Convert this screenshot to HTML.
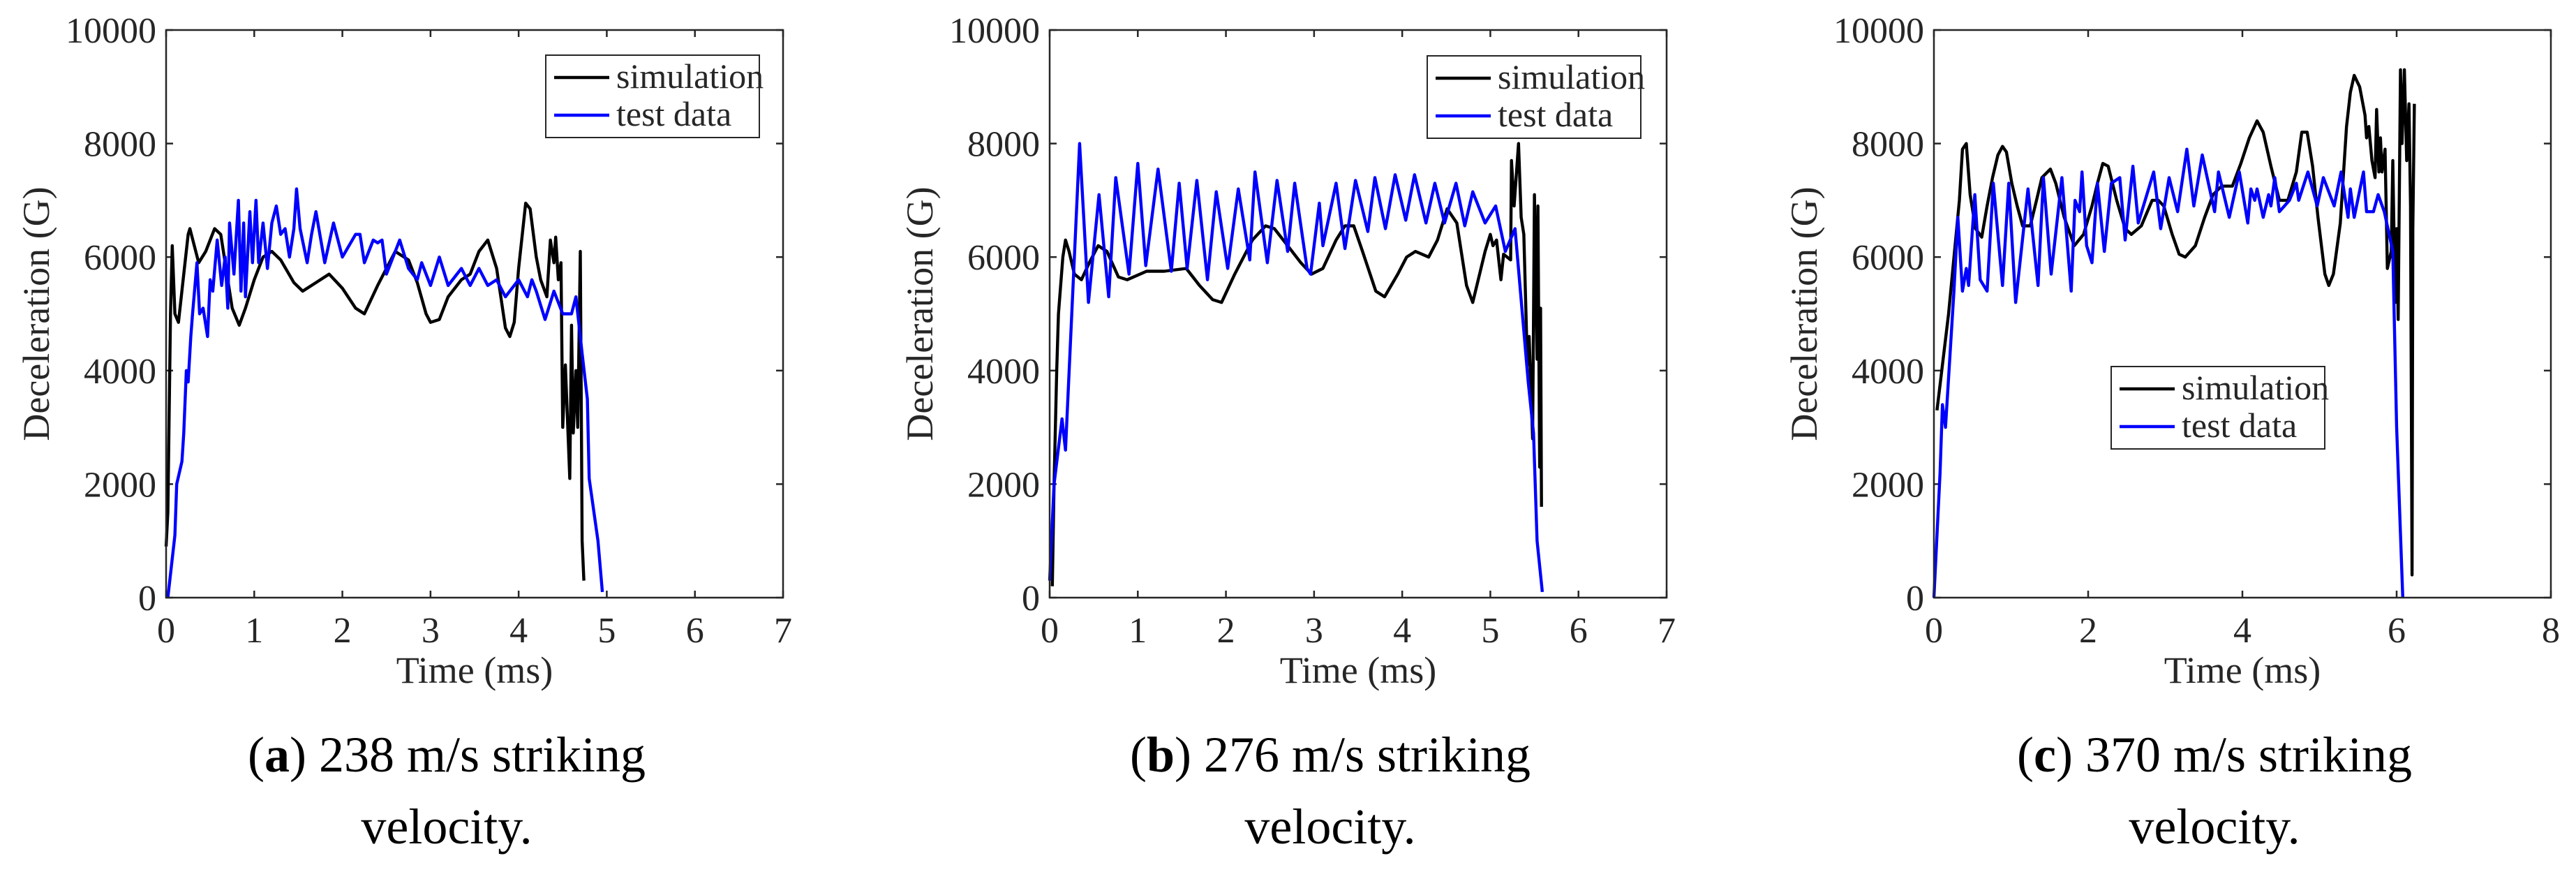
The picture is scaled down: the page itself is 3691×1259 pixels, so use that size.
<!DOCTYPE html>
<html><head><meta charset="utf-8"><style>
html,body{margin:0;padding:0;background:#fff}
svg{display:block}
text{font-family:"Liberation Serif",serif;fill:#262626}
</style></head><body>
<svg id="fig" width="3691" height="1259" viewBox="0 0 3691 1259" xmlns="http://www.w3.org/2000/svg"></svg>
<script>
// Panel (a) 238 m/s
const aSimT=[0,0.02,0.05,0.07,0.1,0.14,0.2,0.25,0.27,0.32,0.37,0.45,0.55,0.62,0.7,0.75,0.83,0.9,1.0,1.1,1.2,1.3,1.45,1.55,1.7,1.85,2.0,2.15,2.25,2.4,2.6,2.75,2.85,2.95,3.0,3.1,3.2,3.35,3.45,3.55,3.65,3.75,3.85,3.9,3.95,4.0,4.08,4.13,4.2,4.25,4.32,4.36,4.4,4.42,4.45,4.48,4.5,4.53,4.55,4.58,4.6,4.62,4.65,4.67,4.7,4.72,4.74];
const aSimV=[900,1500,5000,6200,5000,4850,5700,6400,6500,6200,5900,6100,6500,6400,5600,5100,4800,5100,5600,6000,6100,5950,5550,5400,5550,5700,5450,5100,5000,5500,6100,5950,5550,5000,4850,4900,5300,5600,5700,6100,6300,5800,4750,4600,4850,5800,6950,6850,6000,5600,5300,6300,5900,6350,5600,5900,3000,4100,3300,2100,4800,2900,4000,3000,6100,1000,300];
const aTestT=[0.02,0.1,0.12,0.18,0.2,0.23,0.25,0.28,0.3,0.35,0.38,0.42,0.47,0.5,0.53,0.58,0.63,0.67,0.7,0.72,0.77,0.82,0.85,0.88,0.9,0.95,0.98,1.02,1.05,1.1,1.15,1.2,1.25,1.3,1.35,1.4,1.45,1.48,1.52,1.6,1.65,1.7,1.8,1.9,2.0,2.15,2.2,2.25,2.35,2.4,2.45,2.5,2.65,2.75,2.85,2.9,3.0,3.1,3.2,3.35,3.45,3.55,3.65,3.75,3.85,4.0,4.1,4.15,4.2,4.3,4.4,4.5,4.6,4.65,4.72,4.78,4.8,4.9,4.95];
const aTestV=[0,1100,2000,2400,2900,4000,3800,4600,5000,5900,5000,5100,4600,5600,5400,6300,5500,6000,5100,6600,5700,7000,5400,6600,5300,6800,5900,7000,5900,6600,5800,6600,6900,6400,6500,6000,6500,7200,6500,5900,6400,6800,5900,6600,6000,6400,6400,5900,6300,6250,6300,5700,6300,5800,5600,5900,5500,6000,5500,5800,5500,5800,5500,5600,5300,5600,5300,5600,5400,4900,5400,5000,5000,5300,4300,3500,2100,1000,100];
// Panel (b) 276 m/s
const bSimT=[0.03,0.05,0.08,0.1,0.15,0.18,0.22,0.28,0.36,0.45,0.55,0.65,0.78,0.88,1.1,1.3,1.55,1.7,1.85,1.95,2.1,2.3,2.45,2.55,2.7,2.85,2.97,3.1,3.25,3.35,3.45,3.55,3.7,3.8,3.95,4.05,4.15,4.3,4.4,4.51,4.62,4.73,4.8,4.94,5.0,5.03,5.07,5.12,5.15,5.23,5.24,5.27,5.32,5.35,5.38,5.42,5.44,5.48,5.5,5.53,5.54,5.56,5.57,5.58];
const bSimV=[200,2000,4000,5000,6000,6300,6100,5700,5600,5900,6200,6100,5650,5600,5750,5750,5800,5500,5250,5200,5700,6300,6550,6500,6200,5900,5700,5800,6300,6550,6550,6100,5400,5300,5700,6000,6100,6000,6300,6850,6600,5500,5200,6100,6400,6200,6300,5600,6050,5950,7700,6900,8000,6700,6400,4100,4600,2800,7100,4200,6900,2300,5100,1600];
const bTestT=[0,0.05,0.14,0.18,0.34,0.44,0.56,0.67,0.75,0.9,1.0,1.09,1.23,1.38,1.47,1.56,1.67,1.79,1.89,2.02,2.14,2.27,2.33,2.47,2.58,2.7,2.78,2.92,2.96,3.06,3.1,3.25,3.35,3.47,3.61,3.69,3.81,3.92,4.04,4.14,4.27,4.37,4.48,4.61,4.71,4.8,4.94,5.06,5.17,5.28,5.43,5.49,5.53,5.59];
const bTestV=[300,2000,3150,2600,8000,5200,7100,5300,7400,5700,7650,5850,7550,5750,7300,5800,7350,5600,7150,5800,7200,5950,7500,5900,7350,6100,7300,5800,5700,6950,6200,7300,6150,7350,6450,7400,6500,7450,6650,7450,6600,7300,6600,7300,6550,7150,6600,6900,6100,6500,3800,2900,1000,100];
// Panel (c) 370 m/s
const cSimT=[0.04,0.19,0.33,0.37,0.42,0.47,0.54,0.62,0.69,0.76,0.83,0.89,0.94,1.01,1.08,1.15,1.25,1.33,1.4,1.51,1.58,1.69,1.82,1.94,2.05,2.12,2.19,2.26,2.37,2.48,2.56,2.69,2.83,2.91,2.98,3.09,3.18,3.26,3.39,3.51,3.62,3.73,3.87,3.98,4.09,4.19,4.27,4.37,4.48,4.59,4.7,4.77,4.84,4.91,4.98,5.07,5.12,5.18,5.27,5.35,5.4,5.45,5.52,5.59,5.61,5.64,5.68,5.72,5.74,5.77,5.79,5.81,5.85,5.88,5.93,5.95,5.98,6.0,6.02,6.05,6.07,6.1,6.13,6.16,6.18,6.2,6.21,6.23];
const cSimV=[3300,5000,7000,7900,8000,7100,6500,6350,6900,7400,7800,7950,7850,7300,6900,6550,6550,7000,7400,7550,7300,6700,6200,6400,6900,7300,7650,7600,7000,6500,6400,6550,7000,7000,6900,6400,6050,6000,6200,6700,7100,7250,7250,7650,8100,8400,8200,7600,7000,7000,7500,8200,8200,7600,6700,5700,5500,5700,6600,8300,8900,9200,9000,8500,8100,8300,7700,7400,8600,7500,8100,7500,7900,5800,6100,7700,5200,6500,4900,9300,8000,9300,7700,8700,6900,400,6500,8700];
const cTestT=[0,0.08,0.11,0.15,0.26,0.31,0.37,0.42,0.45,0.53,0.6,0.69,0.77,0.89,0.97,1.06,1.22,1.35,1.42,1.52,1.66,1.78,1.83,1.89,1.92,1.98,2.05,2.12,2.21,2.3,2.41,2.48,2.58,2.65,2.85,2.94,3.05,3.16,3.28,3.37,3.48,3.64,3.69,3.83,3.96,4.07,4.11,4.16,4.19,4.27,4.34,4.37,4.42,4.48,4.61,4.7,4.73,4.85,4.97,5.05,5.19,5.28,5.37,5.4,5.45,5.57,5.61,5.7,5.76,5.84,5.95,6.0,6.04,6.08];
const cTestV=[0,2200,3400,3000,5400,6700,5400,5800,5500,7100,5600,5400,7300,5500,7300,5200,7200,5500,7400,5700,7400,5400,7000,6800,7500,6200,5900,7300,6100,7300,7400,6300,7600,6600,7500,6500,7400,6800,7900,6900,7800,6800,7500,6700,7500,6600,7200,7000,7200,6700,7100,6900,7400,6800,7000,7300,7000,7500,6900,7400,6900,7500,6700,7200,6700,7500,6800,6800,7100,6800,6100,3000,1500,0];
const yTicks=[0,2000,4000,6000,8000,10000];
const xTicksAB=[0,1,2,3,4,5,6,7];
const xTicksC=[0,2,4,6,8];

const NS='http://www.w3.org/2000/svg';
const svg=document.getElementById('fig');
function mk(tag,attrs,parent){const e=document.createElementNS(NS,tag);for(const k in attrs)e.setAttribute(k,attrs[k]);(parent||svg).appendChild(e);return e;}
const TOP=43,BOT=856,AX='#262626',LW=4.4;

function panel(id,L,R,xmax,xTicks,simT,simV,testT,testV,leg,letter,vel,capX){
  const g=mk('g',{});
  
  
  const sx=t=>L+(R-L)*t/xmax, sy=v=>BOT-(BOT-TOP)*v/10000;
  yTicks.forEach(v=>{
    const y=sy(v);
    const t1=mk('line',{x1:L,x2:L+10,y1:y,y2:y,stroke:AX,'stroke-width':2.5},g);
    
    
    mk('line',{x1:R,x2:R-10,y1:y,y2:y,stroke:AX,'stroke-width':2.5},g);
    const tx=mk('text',{x:L-14,y:y+18,'font-size':52,'text-anchor':'end'},g);
    tx.textContent=v;
    
    
  });
  xTicks.forEach(v=>{
    const x=sx(v);
    const t1=mk('line',{x1:x,x2:x,y1:BOT,y2:BOT-10,stroke:AX,'stroke-width':2.5},g);
    
    
    mk('line',{x1:x,x2:x,y1:TOP,y2:TOP+10,stroke:AX,'stroke-width':2.5},g);
    const tx=mk('text',{x:x,y:920,'font-size':52,'text-anchor':'middle'},g);
    tx.textContent=v;
    
    
  });
  const pts=(T,V)=>T.map((t,i)=>sx(t).toFixed(1)+','+sy(V[i]).toFixed(1)).join(' ');
  const s=mk('polyline',{points:pts(simT,simV),fill:'none',stroke:'#000','stroke-width':LW,'stroke-linejoin':'round'},g);
  
  
  const tl=mk('polyline',{points:pts(testT,testV),fill:'none',stroke:'#0000ff','stroke-width':LW,'stroke-linejoin':'round'},g);
  
  
  const fr=mk('rect',{x:L,y:TOP,width:R-L,height:BOT-TOP,fill:'none',stroke:AX,'stroke-width':2.5},g);
  
  
  const xl=mk('text',{x:(L+R)/2,y:978,'font-size':54,'text-anchor':'middle'},g);
  xl.textContent='Time (ms)';
  
  
  const yl=mk('text',{x:0,y:0,'font-size':54,'text-anchor':'middle',transform:`translate(${L-168},${(TOP+BOT)/2}) rotate(-90)`},g);
  yl.textContent='Deceleration (G)';
  
  
  const lg=mk('g',{},g);
  
  
  mk('rect',{x:leg[0],y:leg[1],width:306,height:118,fill:'#fff',stroke:AX,'stroke-width':2},lg);
  mk('line',{x1:leg[0]+12,x2:leg[0]+91,y1:leg[1]+32,y2:leg[1]+32,stroke:'#000','stroke-width':LW},lg);
  mk('line',{x1:leg[0]+12,x2:leg[0]+91,y1:leg[1]+86,y2:leg[1]+86,stroke:'#0000ff','stroke-width':LW},lg);
  const e1=mk('text',{x:leg[0]+101,y:leg[1]+47,'font-size':50,fill:'#000'},lg);
  e1.textContent='simulation';
  
  
  const e2=mk('text',{x:leg[0]+101,y:leg[1]+101,'font-size':50,fill:'#000'},lg);
  e2.textContent='test data';
  
  
  const c1=mk('text',{x:capX,y:1105,'font-size':72,'text-anchor':'middle',style:'fill:#000'},g);
  c1.innerHTML='(<tspan font-weight="bold">'+letter+'</tspan>) '+vel+' m/s striking';
  
  
  const c2=mk('text',{x:capX,y:1208,'font-size':72,'text-anchor':'middle',style:'fill:#000'},g);
  c2.textContent='velocity.';
  
  
}
panel('a',238,1122,7,xTicksAB,aSimT,aSimV,aTestT,aTestV,[782,79],'a','238',640);
panel('b',1504,2388,7,xTicksAB,bSimT,bSimV,bTestT,bTestV,[2045,80],'b','276',1906);
panel('c',2771,3655,8,xTicksC,cSimT,cSimV,cTestT,cTestV,[3025,525],'c','370',3173);
</script>
</body></html>
